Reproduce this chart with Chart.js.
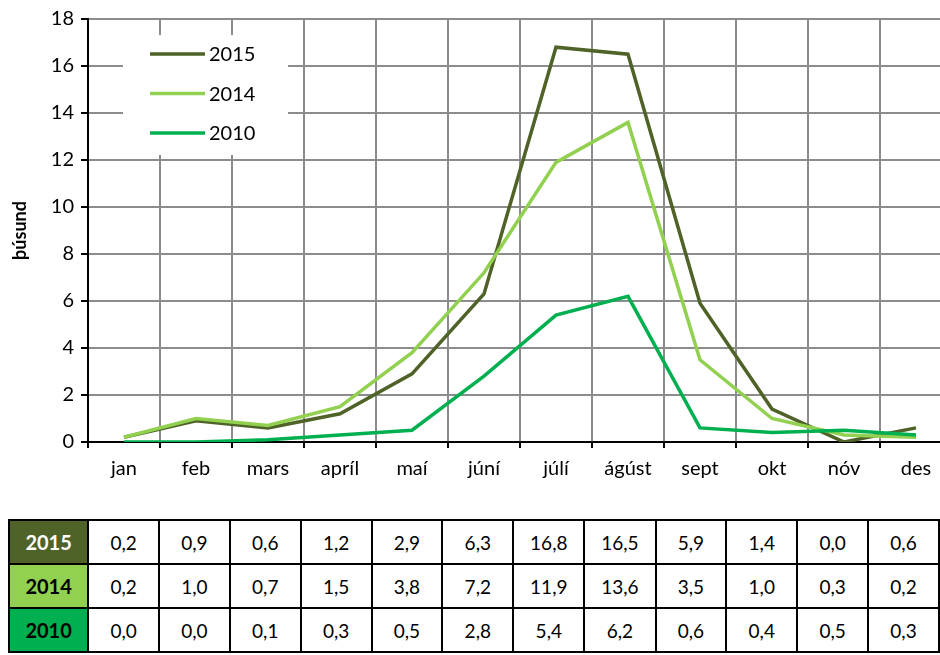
<!DOCTYPE html>
<html>
<head>
    <meta charset="utf-8">
    <title>þúsund eftir mánuðum</title>
    <style>
        body {
            margin: 0;
            background: #fff;
            overflow: hidden;
            font-family: Lato, "Open Sans", sans-serif;
        }

        .chart-box {
            position: absolute;
            left: 0;
            top: 0;
            width: 960px;
            height: 500px;
        }

        table {
            position: absolute;
            left: 8px;
            top: 519px;
            border-collapse: collapse;
            table-layout: fixed;
            font-size: 19px;
        }

        td {
            border: 2px solid #000;
            height: 42px;
            padding: 0;
            text-align: center;
            width: 70px;
        }

        td.head {
            width: 78px;
            font-weight: bold;
            font-size: 20px;
        }
    </style>
</head>
<body>
    <div class="chart-box">
        <canvas id="linurit"></canvas>
    </div>
    <table id="tafla"></table>

    <script src="https://cdn.jsdelivr.net/npm/chart.js"></script>
    <script>
        var manudir = ['jan', 'feb', 'mars', 'apríl', 'maí', 'júní', 'júlí', 'ágúst', 'sept', 'okt', 'nóv', 'des'];
        var ar = ['2015', '2014', '2010'];
        var gogn2015 = [0.2, 0.9, 0.6, 1.2, 2.9, 6.3, 16.8, 16.5, 5.9, 1.4, 0.0, 0.6];
        var gogn2014 = [0.2, 1.0, 0.7, 1.5, 3.8, 7.2, 11.9, 13.6, 3.5, 1.0, 0.3, 0.2];
        var gogn2010 = [0.0, 0.0, 0.1, 0.3, 0.5, 2.8, 5.4, 6.2, 0.6, 0.4, 0.5, 0.3];
        var yTicks = [0, 2, 4, 6, 8, 10, 12, 14, 16, 18];

        var litir = ['#4f6228', '#92d050', '#00b050'];
        var textaLitir = ['#fff', '#000', '#000'];
        var allarRadir = [gogn2015, gogn2014, gogn2010];

        // taflan undir myndinni
        var tafla = document.getElementById('tafla');
        allarRadir.forEach(function (rod, i) {
            var tr = document.createElement('tr');
            var h = document.createElement('td');
            h.className = 'head';
            h.textContent = ar[i];
            h.style.background = litir[i];
            h.style.color = textaLitir[i];
            tr.appendChild(h);
            rod.forEach(function (v) {
                var td = document.createElement('td');
                td.textContent = v.toFixed(1).replace('.', ',');
                tr.appendChild(td);
            });
            tafla.appendChild(tr);
        });

        // skýringar inni í myndinni, efst til vinstri
        var skyringar = {
            id: 'skyringar',
            afterDatasetsDraw: function (chart) {
                var ctx = chart.ctx;
                ctx.save();
                ctx.fillStyle = '#fff';
                ctx.fillRect(123, 35, 165, 120);
                ctx.lineWidth = 3.5;
                ctx.font = '20px Lato';
                ctx.textBaseline = 'middle';
                ar.forEach(function (a, i) {
                    var y = 54 + i * 39.5;
                    ctx.strokeStyle = litir[i];
                    ctx.beginPath();
                    ctx.moveTo(150, y);
                    ctx.lineTo(205, y);
                    ctx.stroke();
                    ctx.fillStyle = '#000';
                    ctx.fillText(a, 209, y + 1);
                });
                ctx.restore();
            }
        };

        var ctx = document.getElementById('linurit').getContext('2d');
        new Chart(ctx, {
            type: 'line',
            data: {
                labels: manudir,
                datasets: [
                    { label: ar[0], data: gogn2015, borderColor: litir[0], order: 2 },
                    { label: ar[1], data: gogn2014, borderColor: litir[1], order: 1 },
                    { label: ar[2], data: gogn2010, borderColor: litir[2], order: 0 }
                ]
            },
            options: {
                responsive: true,
                maintainAspectRatio: false,
                animation: false,
                layout: { padding: { top: 17, right: 8, bottom: 0, left: 9 } },
                elements: {
                    line: { borderWidth: 3.5, tension: 0 },
                    point: { radius: 0 }
                },
                plugins: {
                    legend: { display: false },
                    tooltip: { enabled: false }
                },
                scales: {
                    x: {
                        offset: true,
                        grid: {
                            offset: true,
                            color: '#8c8c8c',
                            lineWidth: 2,
                            tickColor: '#000',
                            tickLength: 6
                        },
                        border: { color: '#000', width: 2 },
                        ticks: {
                            color: '#000',
                            font: { family: 'Lato', size: 20 },
                            padding: 9,
                            maxRotation: 0
                        },
                        afterFit: function (s) { s.height = 58; }
                    },
                    y: {
                        min: 0,
                        max: 18,
                        afterBuildTicks: function (s) {
                            s.ticks = yTicks.map(function (v) { return { value: v }; });
                        },
                        grid: {
                            color: '#8c8c8c',
                            lineWidth: 2,
                            tickColor: '#000',
                            tickLength: 7
                        },
                        border: { color: '#000', width: 2 },
                        ticks: {
                            color: '#000',
                            font: { family: 'Lato', size: 20 },
                            padding: 7
                        },
                        title: {
                            display: true,
                            text: 'þúsund',
                            color: '#000',
                            font: { family: 'Lato', size: 18, weight: 'bold' },
                            padding: 0
                        },
                        afterFit: function (s) { s.width = 79; }
                    }
                }
            },
            plugins: [skyringar]
        });
    </script>
</body>
</html>
